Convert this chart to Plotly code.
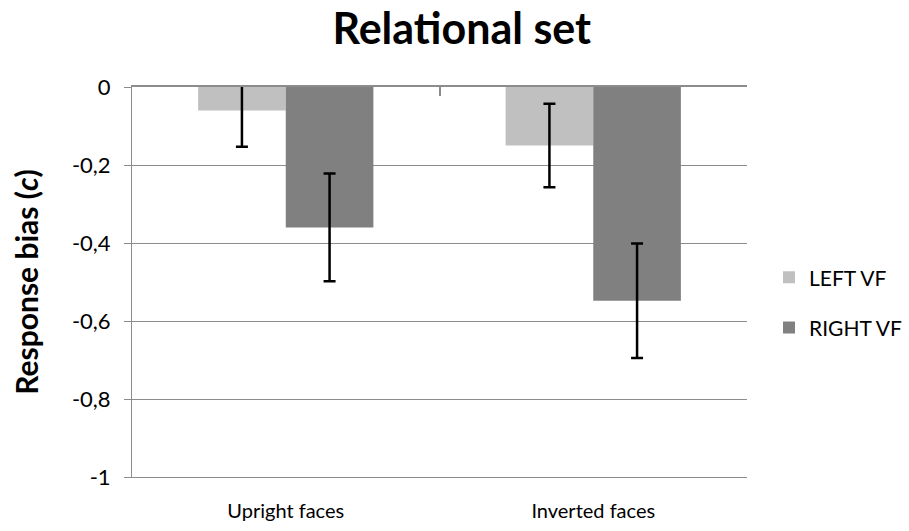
import plotly.graph_objects as go

# Response bias (c) per face orientation and visual field
categories = ["Upright faces", "Inverted faces"]
left_vf = [-0.06, -0.15]
left_vf_err = [0.093, 0.107]
right_vf = [-0.36, -0.548]
right_vf_err = [0.138, 0.147]

y_tickvals = [0, -0.2, -0.4, -0.6, -0.8, -1]
y_ticktext = ["0", "-0,2", "-0,4", "-0,6", "-0,8", "-1"]

FONT = "Lato"
GRID = "#8c8c8c"

fig = go.Figure()
fig.add_trace(go.Bar(
    name="LEFT VF", x=categories, y=left_vf, marker_color="#c0c0c0",
    marker_line_width=0, legendgroup="l",
    error_y=dict(type="data", array=left_vf_err, color="black", thickness=2.5, width=6),
))
fig.add_trace(go.Bar(
    name="RIGHT VF", x=categories, y=right_vf, marker_color="#808080",
    marker_line_width=0, legendgroup="r",
    error_y=dict(type="data", array=right_vf_err, color="black", thickness=2.5, width=6),
))
# empty helper trace so the top category axis (crossing at 0) gets drawn
fig.add_trace(go.Scatter(x=categories, y=[None, None], xaxis="x2", yaxis="y",
                         showlegend=False, hoverinfo="skip"))

fig.update_layout(
    width=909, height=531,
    margin=dict(l=132, r=162, t=87, b=54, autoexpand=False),
    paper_bgcolor="white", plot_bgcolor="white",
    barmode="group", bargap=0.43, bargroupgap=0,
    font=dict(family=FONT, color="black"),
    title=dict(text="<b>Relational set</b>", x=0.508, xanchor="center",
               y=0.945, yanchor="middle", font=dict(size=43, family=FONT)),
    legend=dict(xref="container", yref="container", x=0.846, xanchor="left",
                y=0.43, yanchor="middle",
                font=dict(size=21, family=FONT), itemwidth=30,
                tracegroupgap=20, bgcolor="rgba(0,0,0,0)"),
    xaxis=dict(showline=True, mirror=False, linecolor=GRID, linewidth=1,
               ticks="", tickfont=dict(size=20, family=FONT), ticklabelstandoff=16,
               range=[-0.5, 1.5], automargin=False),
    xaxis2=dict(overlaying="x", anchor="y", side="top", type="category",
                categoryarray=categories, range=[-0.5, 1.5],
                showline=True, linecolor=GRID, linewidth=1.5,
                showticklabels=False, showgrid=False,
                ticks="inside", tickson="boundaries", ticklen=9,
                tickwidth=1.5, tickcolor=GRID, automargin=False),
    yaxis=dict(range=[-1, 0], tickvals=y_tickvals, ticktext=y_ticktext,
               showgrid=True, gridcolor=GRID, gridwidth=1,
               showline=True, linecolor=GRID, linewidth=1,
               ticks="outside", ticklen=7, tickcolor=GRID,
               tickfont=dict(size=22, family=FONT), zeroline=False,
               ticklabelstandoff=9, automargin=False,
               title=dict(text="<b>Response bias (<i>c</i>)</b>",
                          font=dict(size=30, family=FONT), standoff=24)),
)

fig.write_html("out.html")
